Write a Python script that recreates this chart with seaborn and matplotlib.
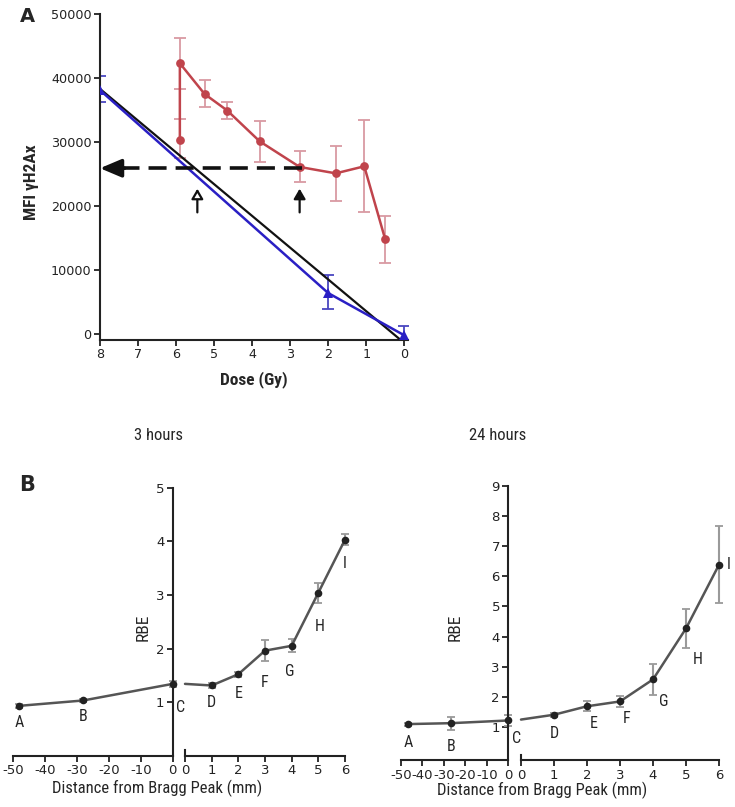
import matplotlib
matplotlib.use('Agg')
import matplotlib.pyplot as plt
from matplotlib import font_manager
import numpy as np
import seaborn as sns

# ---- panel A : MFI gH2Ax vs dose ----
dose_red = [5.9, 5.9, 5.25, 4.65, 3.8, 2.75, 1.8, 1.05, 0.5]
mfi_red = [30300, 42300, 37500, 34900, 30100, 26100, 25100, 26200, 14800]
red_lo = [27500, 38300, 35400, 33600, 26900, 23700, 20800, 19000, 11100]
red_hi = [33600, 46200, 39700, 36200, 33300, 28600, 29400, 33500, 18500]

dose_blue = [8, 2, 0]
mfi_blue = [38100, 6400, -200]
blue_lo = [36300, 3900, -1500]
blue_hi = [40300, 9200, 1200]

dose_fit = [8, 0.1]
mfi_fit = [38300, -900]

iso_mfi = 25900
iso_dose_start = 2.69
arrow_doses = [5.44, 2.75]

# ---- panel B : RBE vs distance from Bragg peak ----
far_labels = ['A', 'B', 'C']
near_labels = ['D', 'E', 'F', 'G', 'H', 'I']

dist_far_3h = [-48, -28, 0]
rbe_far_3h = [0.93, 1.03, 1.34]
err_far_3h = [0.04, 0.03, 0.05]
dist_near = [0, 1, 2, 3, 4, 5, 6]
rbe_near_3h = [1.34, 1.31, 1.52, 1.96, 2.05, 3.04, 4.03]
err_near_3h = [0, 0.05, 0.05, 0.2, 0.12, 0.19, 0.1]

dist_far_24h = [-46.7, -26.8, 0]
rbe_far_24h = [1.1, 1.13, 1.22]
err_far_24h = [0.05, 0.22, 0.17]
rbe_near_24h = [1.25, 1.41, 1.69, 1.85, 2.58, 4.27, 6.38]
err_near_24h = [0, 0.07, 0.17, 0.19, 0.5, 0.66, 1.28]

sns.set_style('ticks')
names = {f.name for f in font_manager.fontManager.ttflist}
narrow = [n for n in ['Liberation Sans Narrow', 'Roboto Condensed', 'Open Sans Condensed',
                      'Noto Sans Condensed', 'DejaVu Sans Condensed'] if n in names]
plt.rcParams['font.family'] = narrow[:1] + ['DejaVu Sans']
plt.rcParams['axes.unicode_minus'] = False
plt.rcParams['axes.linewidth'] = 1.5
plt.rcParams['xtick.major.width'] = 1.3
plt.rcParams['ytick.major.width'] = 1.3
plt.rcParams['xtick.major.size'] = 4
plt.rcParams['ytick.major.size'] = 4
plt.rcParams['xtick.color'] = '#222222'
plt.rcParams['ytick.color'] = '#222222'
plt.rcParams['axes.edgecolor'] = '#222222'

W, H = 735, 807
fig = plt.figure(figsize=(W / 100, H / 100), dpi=100)


def px_axes(left, top, right, bottom):
    return fig.add_axes([left / W, 1 - bottom / H, (right - left) / W, (bottom - top) / H])


def ftext(x, y, s, **kw):
    fig.text(x / W, 1 - y / H, s, ha='center', va='center', **kw)


def tick_font(a, size):
    # wide digits like the original: DejaVu Sans for the numbers
    for lab in a.get_xticklabels() + a.get_yticklabels():
        lab.set_fontfamily('DejaVu Sans')
        lab.set_fontsize(size)


# ---------------- panel A ----------------
ax = px_axes(100, 14, 408, 340)
red, red_err = '#c0444c', '#d99aa3'
blue, blue_err = '#2a1fc4', '#4a46c0'

m_red = np.array(mfi_red)
ax.errorbar(dose_red, mfi_red, yerr=[m_red - red_lo, np.array(red_hi) - m_red],
            fmt='none', ecolor=red_err, elinewidth=1.3, capsize=4, capthick=1.3, zorder=2)
m_blue = np.array(mfi_blue)
ax.errorbar(dose_blue, mfi_blue, yerr=[m_blue - blue_lo, np.array(blue_hi) - m_blue],
            fmt='none', ecolor=blue_err, elinewidth=1.3, capsize=4, capthick=1.3, zorder=2)

sns.lineplot(x=dose_fit, y=mfi_fit, sort=False, estimator=None, ax=ax,
             color='#111111', lw=1.6, zorder=3)
sns.lineplot(x=dose_blue, y=mfi_blue, sort=False, estimator=None, ax=ax, color=blue,
             lw=1.8, marker='^', markersize=6.5, markeredgewidth=0, zorder=4)
sns.lineplot(x=dose_red, y=mfi_red, sort=False, estimator=None, ax=ax, color=red,
             lw=1.8, marker='o', markersize=6.3, markeredgewidth=0, zorder=4)

# dashed iso-effect line with arrow head
ax.plot([iso_dose_start, 7.4], [iso_mfi, iso_mfi], color='#111111', lw=2.6,
        dashes=(5, 2.5), zorder=5)
ax.annotate('', xy=(8, iso_mfi), xytext=(7.35, iso_mfi),
            arrowprops=dict(arrowstyle='-|>,head_length=1.3,head_width=0.55',
                            color='#111111', lw=2.5, shrinkA=0, shrinkB=0), zorder=6)
for d, fc in zip(arrow_doses, ['white', '#111111']):
    ax.annotate('', xy=(d, 22700), xytext=(d, 19000),
                arrowprops=dict(arrowstyle='-|>,head_length=0.6,head_width=0.35',
                                facecolor=fc, edgecolor='#111111', lw=1.6,
                                shrinkA=0, shrinkB=0))

ax.set_xlim(8, -0.1)
ax.set_ylim(-940, 50000)
ax.set_xticks(range(0, 9))
ax.set_yticks(range(0, 50001, 10000))
ax.tick_params(axis='both', direction='out', pad=2)
tick_font(ax, 9.2)
sns.despine(ax=ax)
ax.set_xlabel('')
ax.set_ylabel('')
ftext(254, 380, 'Dose (Gy)', fontsize=12.5, fontweight='bold')
ftext(32, 182, 'MFI γH2Ax', fontsize=12.5, fontweight='bold', rotation=90)
ftext(27, 16, 'A', fontsize=14, fontweight='bold', family='DejaVu Sans')

# ---------------- panel B ----------------
gray, gray_err = '#555555', '#9a9a9a'


def rbe_panel(axL, axR, far_x, far_y, far_e, near_y, near_e, ymax,
              far_off, near_off):
    axL.errorbar(far_x, far_y, yerr=far_e, fmt='none', ecolor=gray_err,
                 elinewidth=1.5, capsize=3, capthick=1.3, clip_on=False, zorder=2)
    sns.lineplot(x=far_x, y=far_y, sort=False, estimator=None, ax=axL, color=gray,
                 lw=1.8, marker='o', markersize=5.5, markerfacecolor='#222222',
                 markeredgewidth=0, clip_on=False, zorder=3)
    axR.errorbar(dist_near[1:], near_y[1:], yerr=near_e[1:], fmt='none',
                 ecolor=gray_err, elinewidth=1.5, capsize=3, capthick=1.3,
                 clip_on=False, zorder=2)
    sns.lineplot(x=dist_near, y=near_y, sort=False, estimator=None, ax=axR,
                 color=gray, lw=1.8, clip_on=False, zorder=3)
    axR.plot(dist_near[1:], near_y[1:], 'o', color='#222222', markersize=5.5,
             markeredgewidth=0, clip_on=False, zorder=4)

    for lab, x, y, off in zip(far_labels, far_x, far_y, far_off):
        axL.annotate(lab, (x, y), xytext=off, textcoords='offset pixels',
                     ha='center', va='center', fontsize=11.5, annotation_clip=False)
    for lab, x, y, off in zip(near_labels, dist_near[1:], near_y[1:], near_off):
        axR.annotate(lab, (x, y), xytext=off, textcoords='offset pixels',
                     ha='center', va='center', fontsize=11.5, annotation_clip=False)

    axL.set_xlim(-50, 0)
    axR.set_xlim(0, 6)
    for a in (axL, axR):
        a.set_ylim(-0.1 if ymax > 5 else 0, ymax)
        a.set_xlabel('')
        a.set_ylabel('')
        a.spines['top'].set_visible(False)
        a.spines['right'].set_visible(False)
        a.tick_params(axis='both', direction='out', pad=2)
    axL.spines['left'].set_position(('data', 0))
    axL.set_yticks(range(1, ymax + 1))
    axL.set_xticks(range(-50, 1, 10))
    axR.set_xticks(range(0, 7))
    axR.set_yticks([])
    axR.spines['left'].set_bounds(axR.get_ylim()[0], axR.get_ylim()[0] + ymax * 0.02)
    tick_font(axL, 9.5)
    tick_font(axR, 9.5)


ax3L = px_axes(12.7, 487.7, 172.7, 755.7)
ax3R = px_axes(185, 487.7, 345, 755.7)
rbe_panel(ax3L, ax3R, dist_far_3h, rbe_far_3h, err_far_3h, rbe_near_3h, err_near_3h, 5,
          [(0, -17), (0, -16), (8, -24)],
          [(0, -17), (0, -19), (0, -32), (-2, -26), (1, -34), (0, -24)])

ax24L = px_axes(400.7, 485.7, 508.3, 760.3)
ax24R = px_axes(521, 485.7, 719, 760.3)
rbe_panel(ax24L, ax24R, dist_far_24h, rbe_far_24h, err_far_24h, rbe_near_24h,
          err_near_24h, 9,
          [(0, -18), (0, -23), (8, -18)],
          [(0, -19), (7, -17), (7, -17), (11, -22), (12, -31), (10, 0)])

ftext(158, 436, '3 hours', fontsize=12)
ftext(498, 436, '24 hours', fontsize=12)
ftext(27, 485, 'B', fontsize=15, fontweight='bold', family='DejaVu Sans')
ftext(143, 627, 'RBE', fontsize=12.5, rotation=90)
ftext(455, 627, 'RBE', fontsize=12.5, rotation=90)
ftext(157, 788, 'Distance from Bragg Peak (mm)', fontsize=12)
ftext(542, 790, 'Distance from Bragg Peak (mm)', fontsize=12)

fig.savefig('out.png', dpi=100)
